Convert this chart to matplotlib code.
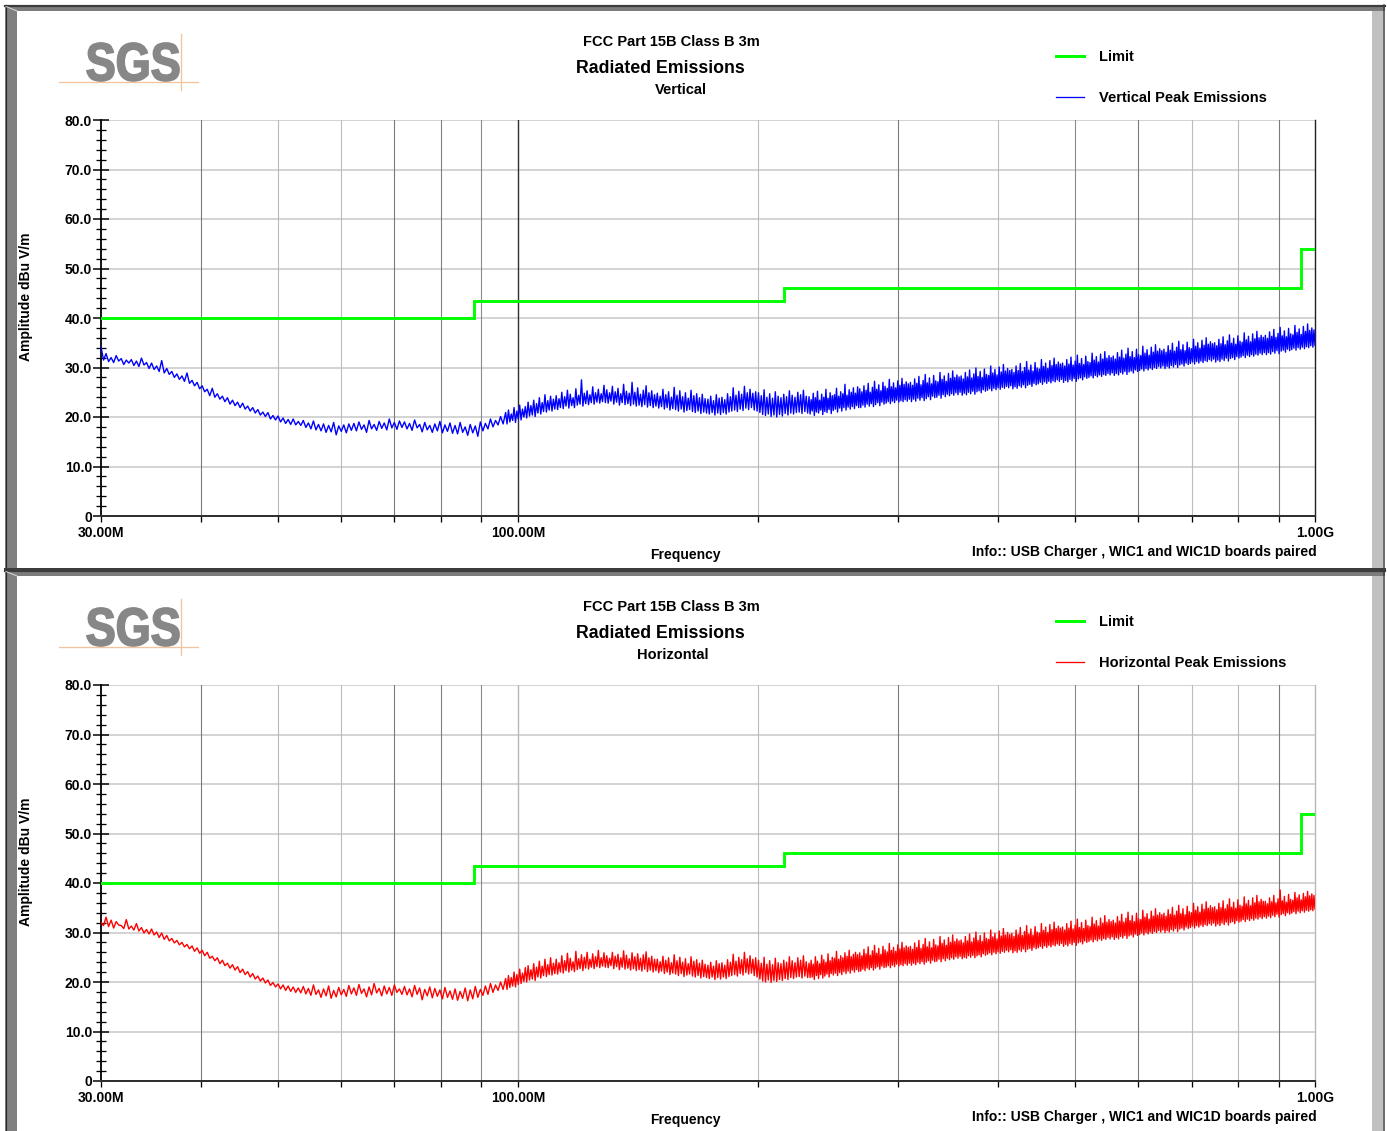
import numpy as np
import matplotlib
matplotlib.use("Agg")
import matplotlib.pyplot as plt
from matplotlib.patches import Rectangle, PathPatch
from matplotlib.textpath import TextPath
from matplotlib.font_manager import FontProperties
from matplotlib.transforms import Affine2D
from matplotlib.ticker import NullFormatter

FONT = "Liberation Sans"
W, H = 1387, 1131

# ---------------------------------------------------------------- data
# FCC Part 15B Class B (3 m) limit, MHz / dBuV/m
limit_freq = [30, 88, 88, 216, 216, 960, 960, 1000]
limit_level = [40.0, 40.0, 43.5, 43.5, 46.0, 46.0, 54.0, 54.0]

# sweep bands (MHz)
band_edges = [30.0, 96.54, 231.9, 1000.0]

# Peak scan, vertical polarisation (dBuV/m), 30 - 96.5 MHz
vertical_low = [
    34.2, 31.5, 32.8, 31.2, 32.0, 31.0, 32.4, 31.3, 31.8, 30.6, 31.5, 30.9, 31.6, 30.4, 31.3, 30.2, 31.9, 30.5, 31.0, 29.8,
    30.9, 29.6, 30.3, 29.2, 31.4, 28.9, 29.8, 28.6, 29.2, 28.0, 28.7, 27.6, 28.3, 27.2, 28.9, 26.8, 27.4, 26.3, 27.0, 25.7,
    26.3, 25.1, 25.6, 24.3, 25.8, 24.0, 24.7, 23.6, 24.2, 23.1, 23.9, 22.6, 23.4, 22.3, 23.0, 21.9, 22.8, 21.6, 22.2, 21.2,
    21.9, 20.8, 21.5, 20.4, 21.0, 20.1, 20.9, 19.6, 20.3, 19.4, 20.2, 19.0, 19.8, 18.7, 19.5, 18.5, 19.6, 18.4, 19.1, 18.3,
    19.3, 17.9, 18.8, 17.6, 19.2, 17.4, 18.5, 17.2, 18.6, 16.9, 18.3, 17.0, 18.9, 16.4, 18.2, 17.1, 18.4, 16.8, 18.6, 17.3,
    18.7, 17.2, 19.0, 17.5, 18.4, 16.9, 19.3, 17.6, 18.5, 17.3, 19.1, 17.7, 18.8, 17.4, 19.6, 17.8, 18.9, 17.5, 19.2, 17.9,
    19.0, 17.6, 18.7, 17.3, 19.4, 17.8, 18.5, 17.0, 18.9, 17.4, 18.3, 16.9, 18.6, 17.2, 19.1, 16.8, 18.4, 17.1, 18.8, 16.7,
    18.3, 16.6, 18.9, 16.9, 18.0, 16.3, 18.5, 16.8, 18.2, 16.1, 19.0, 17.2, 18.7, 17.6, 19.6, 18.0, 19.3, 18.4, 20.1, 18.6,
]

# Peak scan, vertical polarisation (dBuV/m), 96.5 - 231.9 MHz
vertical_mid = [
    20.9, 18.6, 21.4, 19.0, 20.6, 19.3, 21.9, 18.9, 21.2, 19.6, 22.4, 19.4, 21.6, 20.0, 22.1, 19.8, 23.0, 20.2,
    22.3, 20.4, 23.4, 20.1, 22.7, 20.8, 23.9, 20.6, 22.9, 21.1, 24.5, 21.0, 23.3, 21.4, 24.2, 21.2, 23.6, 21.6,
    24.3, 21.5, 23.7, 21.9, 25.0, 21.7, 24.1, 22.2, 25.4, 21.8, 24.6, 22.3, 23.9, 21.9, 25.7, 22.4, 24.4, 22.6,
    27.5, 22.2, 24.8, 22.7, 25.3, 22.5, 24.5, 22.9, 26.1, 22.6, 24.9, 23.0, 25.6, 22.8, 24.7, 23.1, 26.4, 22.9,
    25.5, 22.8, 24.9, 23.2, 26.2, 22.6, 25.1, 23.0, 25.8, 22.4, 24.7, 22.9, 26.6, 22.5, 25.2, 22.7, 24.8, 22.3,
    27.0, 22.6, 25.0, 22.2, 25.9, 22.4, 24.6, 22.1, 25.4, 22.5, 26.3, 22.0, 24.9, 22.3, 25.3, 21.9, 24.5, 22.2,
    24.8, 21.8, 24.2, 22.1, 25.6, 21.6, 24.5, 21.9, 25.1, 21.4, 24.0, 21.7, 26.0, 21.5, 24.4, 21.2, 25.3, 21.6,
    24.1, 21.0, 24.9, 21.3, 23.8, 21.5, 25.4, 21.1, 24.3, 20.9, 24.7, 21.2, 23.9, 20.7, 24.6, 21.0, 23.7, 20.8,
    23.6, 20.6, 24.2, 20.9, 23.3, 20.4, 24.5, 20.8, 23.8, 20.5, 24.0, 20.9, 23.5, 20.6, 24.7, 21.0, 24.1, 21.2,
    25.9, 21.4, 24.4, 21.1, 25.2, 21.6, 24.6, 21.3, 26.2, 21.8, 24.9, 21.5, 25.6, 21.9, 24.8, 21.4, 25.1, 21.2,
    24.9, 20.9, 24.3, 20.5, 25.5, 20.3, 24.0, 20.6, 24.7, 20.1, 23.8, 20.4, 25.1, 20.0, 24.2, 20.5, 23.9, 20.2,
    24.6, 20.7, 24.1, 20.4, 25.3, 20.8, 24.4, 20.6, 24.0, 20.9, 25.0, 21.0, 24.5, 20.7, 25.4, 21.1, 24.2, 20.8,
]

# Peak scan, vertical polarisation (dBuV/m), 231.9 - 1000 MHz
vertical_high = [
    24.1, 20.6, 23.5, 21.2, 24.8, 20.3, 23.9, 21.0, 25.2, 20.8, 23.4, 21.4, 24.6, 20.5, 24.0, 21.1, 25.6, 20.9, 23.8, 21.5, 24.9, 20.7, 24.3, 21.3,
    24.5, 21.6, 25.8, 21.0, 24.2, 21.8, 25.1, 21.2, 24.7, 21.9, 26.6, 21.4, 24.4, 22.0, 25.5, 21.6, 25.0, 22.1, 25.9, 21.7, 24.8, 22.3, 26.1, 21.9,
    25.7, 21.9, 25.1, 22.4, 26.3, 22.0, 25.4, 22.6, 26.8, 22.2, 25.0, 22.7, 26.0, 22.1, 27.2, 22.5, 25.6, 22.9, 26.5, 22.3, 25.3, 23.0, 27.0, 22.6,
    26.2, 22.8, 25.8, 23.1, 27.6, 22.7, 26.1, 23.2, 26.9, 22.9, 25.9, 23.4, 27.3, 23.0, 26.4, 23.3, 27.8, 23.1, 26.6, 23.5, 27.1, 23.2, 26.7, 23.6,
    27.0, 23.1, 26.4, 23.6, 27.7, 23.2, 26.8, 23.8, 28.2, 23.4, 26.5, 23.9, 27.4, 23.3, 28.6, 23.7, 26.9, 24.1, 27.9, 23.5, 26.7, 24.2, 28.4, 23.9,
    27.3, 24.0, 27.1, 24.4, 29.0, 23.8, 27.6, 24.5, 28.3, 24.1, 27.2, 24.6, 28.8, 24.3, 27.8, 24.7, 29.3, 24.4, 28.0, 24.9, 28.5, 24.5, 28.1, 25.0,
    28.3, 24.4, 27.7, 24.8, 29.0, 24.5, 28.1, 25.0, 29.5, 24.7, 27.9, 25.2, 28.7, 24.6, 29.9, 25.1, 28.2, 25.3, 29.2, 24.9, 28.0, 25.5, 29.7, 25.2,
    28.6, 25.4, 28.4, 25.7, 30.3, 25.3, 28.9, 25.8, 29.6, 25.5, 28.5, 25.9, 30.1, 25.6, 29.1, 26.0, 30.6, 25.8, 29.3, 26.2, 29.8, 25.9, 29.4, 26.3,
    29.6, 25.7, 29.0, 26.1, 30.3, 25.8, 29.4, 26.3, 30.8, 26.0, 29.2, 26.5, 30.0, 25.9, 31.2, 26.4, 29.5, 26.6, 30.5, 26.2, 29.3, 26.8, 31.0, 26.5,
    29.9, 26.7, 29.7, 27.0, 31.6, 26.6, 30.2, 27.1, 30.9, 26.8, 29.8, 27.2, 31.4, 26.9, 30.4, 27.3, 31.9, 27.1, 30.6, 27.5, 31.1, 27.2, 30.7, 27.6,
    30.9, 27.0, 30.3, 27.4, 31.6, 27.1, 30.7, 27.6, 32.1, 27.3, 30.5, 27.8, 31.3, 27.2, 32.5, 27.7, 30.8, 27.9, 31.8, 27.5, 30.6, 28.1, 32.3, 27.8,
    31.2, 28.0, 31.0, 28.3, 32.9, 27.9, 31.5, 28.4, 32.2, 28.1, 31.1, 28.5, 32.7, 28.2, 31.7, 28.6, 33.2, 28.4, 31.9, 28.8, 32.4, 28.5, 32.0, 28.9,
    32.3, 28.4, 31.7, 28.8, 33.0, 28.5, 32.1, 29.0, 33.5, 28.7, 31.9, 29.2, 32.7, 28.6, 33.9, 29.1, 32.2, 29.3, 33.2, 28.9, 32.0, 29.5, 33.7, 29.2,
    32.6, 29.4, 32.4, 29.7, 34.3, 29.3, 32.9, 29.8, 33.6, 29.5, 32.5, 29.9, 34.1, 29.6, 33.1, 30.0, 34.6, 29.8, 33.3, 30.2, 33.8, 29.9, 33.4, 30.3,
    33.7, 29.8, 33.1, 30.2, 34.4, 29.9, 33.5, 30.4, 34.9, 30.1, 33.3, 30.6, 34.1, 30.0, 35.3, 30.5, 33.6, 30.7, 34.6, 30.3, 33.4, 30.9, 35.1, 30.6,
    34.0, 30.8, 33.8, 31.1, 35.7, 30.7, 34.3, 31.2, 35.0, 30.9, 33.9, 31.3, 35.5, 31.0, 34.5, 31.4, 36.0, 31.2, 34.7, 31.6, 35.2, 31.3, 34.8, 31.7,
    35.0, 31.1, 34.4, 31.5, 35.7, 31.2, 34.8, 31.7, 36.2, 31.4, 34.6, 31.9, 35.4, 31.3, 36.6, 31.8, 34.9, 32.0, 35.9, 31.6, 34.7, 32.2, 36.4, 31.9,
    35.3, 32.1, 35.1, 32.4, 37.0, 32.0, 35.6, 32.5, 36.3, 32.2, 35.2, 32.6, 36.8, 32.3, 35.8, 32.7, 37.3, 32.5, 36.0, 32.9, 36.5, 32.6, 36.1, 33.0,
    36.5, 32.6, 35.9, 33.0, 37.2, 32.7, 36.3, 33.2, 37.7, 32.9, 36.1, 33.4, 36.9, 32.8, 38.1, 33.3, 36.4, 33.5, 37.4, 33.1, 36.2, 33.7, 37.9, 33.4,
    36.8, 33.6, 36.6, 33.9, 38.5, 33.5, 37.1, 34.0, 37.8, 33.7, 36.7, 34.1, 38.3, 33.8, 37.3, 34.2, 38.8, 34.0, 37.5, 34.4, 38.0, 34.1, 37.6, 34.5,
]

# Peak scan, horizontal polarisation (dBuV/m), 30 - 96.5 MHz
horizontal_low = [
    32.0, 31.4, 33.1, 31.2, 32.5, 30.9, 32.2, 31.5, 31.4, 30.8, 32.6, 30.7, 31.3, 30.5, 31.8, 30.3, 31.0, 29.9, 30.6, 29.7,
    30.7, 29.5, 30.1, 29.0, 29.9, 28.6, 29.4, 28.3, 28.8, 27.9, 28.4, 27.5, 28.0, 27.1, 27.6, 26.7, 27.3, 26.2, 26.9, 25.8,
    26.4, 25.3, 26.0, 24.8, 25.2, 24.3, 24.9, 23.7, 24.4, 23.3, 23.8, 22.8, 23.5, 22.4, 23.1, 21.9, 22.6, 21.5, 22.1, 21.0,
    21.7, 20.6, 21.2, 20.2, 20.8, 19.8, 20.4, 19.3, 19.9, 19.0, 19.6, 18.6, 19.4, 18.3, 19.2, 18.1, 19.0, 17.9, 18.8, 17.8,
    19.1, 17.6, 18.7, 17.3, 19.4, 17.5, 18.4, 16.9, 18.6, 17.2, 19.2, 16.7, 18.3, 17.0, 18.9, 17.4, 18.5, 17.1, 19.3, 17.6,
    18.8, 17.3, 19.5, 17.7, 18.6, 17.0, 19.0, 17.4, 19.7, 17.8, 18.7, 17.2, 19.2, 17.6, 18.9, 17.3, 19.4, 17.9, 18.6, 17.5,
    19.1, 17.4, 18.6, 17.0, 19.3, 17.5, 18.8, 16.4, 18.5, 17.2, 19.0, 16.8, 18.7, 17.1, 18.4, 16.6, 18.9, 16.9, 18.2, 16.5,
    18.6, 16.3, 18.1, 16.7, 18.8, 16.2, 18.4, 16.6, 19.1, 16.9, 18.5, 17.3, 19.2, 17.5, 19.7, 17.9, 19.4, 18.3, 20.0, 18.5,
]

# Peak scan, horizontal polarisation (dBuV/m), 96.5 - 231.9 MHz
horizontal_mid = [
    20.7, 18.5, 21.3, 18.9, 20.9, 19.2, 22.0, 19.0, 21.5, 19.5, 22.6, 19.7, 21.8, 20.1, 22.9, 20.0, 23.3, 20.4,
    22.5, 20.6, 23.7, 20.3, 23.0, 21.0, 24.2, 20.8, 23.2, 21.3, 24.6, 21.1, 23.5, 21.5, 24.9, 21.4, 23.8, 21.7,
    24.6, 21.6, 23.9, 22.0, 25.3, 21.8, 24.3, 22.3, 25.8, 22.0, 24.8, 22.4, 24.1, 22.1, 26.2, 22.5, 24.7, 22.7,
    25.5, 22.3, 25.0, 22.8, 26.0, 22.6, 24.6, 23.0, 25.7, 22.7, 25.1, 23.1, 26.4, 22.9, 24.9, 23.2, 25.9, 23.0,
    25.3, 22.9, 24.8, 23.3, 26.0, 22.7, 25.2, 23.1, 25.6, 22.5, 24.9, 23.0, 26.3, 22.6, 25.4, 22.8, 24.7, 22.4,
    25.9, 22.7, 25.1, 22.3, 25.7, 22.5, 24.8, 22.2, 25.5, 22.6, 26.1, 22.1, 24.9, 22.4, 25.2, 22.0, 24.6, 22.3,
    24.6, 21.9, 24.1, 22.2, 25.2, 21.7, 24.4, 22.0, 24.9, 21.5, 23.9, 21.8, 25.5, 21.6, 24.3, 21.3, 25.0, 21.7,
    24.0, 21.1, 24.7, 21.4, 23.7, 21.6, 25.1, 21.2, 24.2, 21.0, 24.5, 21.3, 23.8, 20.8, 24.4, 21.1, 23.6, 20.9,
    23.4, 20.7, 24.0, 21.0, 23.2, 20.5, 24.3, 20.9, 23.7, 20.6, 23.9, 21.0, 23.4, 20.7, 24.5, 21.1, 24.0, 21.3,
    25.6, 21.5, 24.2, 21.2, 25.0, 21.7, 24.5, 21.4, 26.0, 21.9, 24.7, 21.6, 25.3, 21.8, 24.6, 21.3, 24.9, 21.0,
    24.4, 20.6, 23.8, 20.2, 25.0, 20.0, 23.6, 20.4, 24.3, 19.9, 23.5, 20.3, 24.8, 20.1, 23.9, 20.5, 23.7, 20.3,
    24.4, 20.7, 24.0, 20.5, 25.1, 20.9, 24.3, 20.7, 23.9, 21.0, 24.9, 21.1, 24.4, 20.8, 25.3, 21.2, 24.1, 20.9,
]

# Peak scan, horizontal polarisation (dBuV/m), 231.9 - 1000 MHz
horizontal_high = [
    23.8, 20.9, 24.4, 21.0, 23.6, 20.5, 25.1, 21.3, 24.2, 20.7, 23.7, 21.5, 25.4, 20.8, 24.5, 21.2, 24.0, 21.6, 25.7, 21.0, 24.3, 21.7, 25.0, 21.4,
    24.8, 21.8, 26.2, 21.3, 24.6, 21.9, 25.3, 21.5, 24.9, 22.1, 25.9, 21.7, 25.2, 22.2, 26.4, 21.8, 25.1, 22.4, 25.6, 22.0, 26.0, 22.5, 25.5, 22.1,
    25.9, 22.2, 25.3, 22.6, 26.6, 22.3, 25.7, 22.8, 27.1, 22.5, 25.4, 22.9, 26.3, 22.4, 27.4, 22.8, 25.8, 23.1, 26.8, 22.6, 25.6, 23.2, 27.2, 22.9,
    26.5, 23.0, 26.1, 23.3, 27.8, 22.9, 26.4, 23.4, 27.0, 23.1, 26.2, 23.6, 27.5, 23.2, 26.7, 23.5, 28.0, 23.3, 26.9, 23.7, 27.3, 23.4, 27.0, 23.8,
    27.2, 23.4, 26.6, 23.8, 27.9, 23.5, 27.0, 24.0, 28.4, 23.7, 26.8, 24.1, 27.6, 23.6, 28.8, 24.0, 27.1, 24.3, 28.1, 23.8, 26.9, 24.4, 28.6, 24.1,
    27.5, 24.2, 27.3, 24.6, 29.2, 24.1, 27.8, 24.7, 28.5, 24.3, 27.4, 24.8, 29.0, 24.5, 28.0, 24.9, 29.5, 24.6, 28.2, 25.1, 28.7, 24.8, 28.3, 25.2,
    28.5, 24.7, 27.9, 25.0, 29.2, 24.8, 28.3, 25.3, 29.7, 25.0, 28.1, 25.4, 28.9, 24.9, 30.1, 25.3, 28.4, 25.5, 29.4, 25.1, 28.2, 25.7, 29.9, 25.4,
    28.8, 25.6, 28.6, 25.9, 30.5, 25.5, 29.1, 26.0, 29.8, 25.7, 28.7, 26.1, 30.3, 25.8, 29.3, 26.2, 30.8, 26.0, 29.5, 26.4, 30.0, 26.1, 29.6, 26.5,
    29.8, 25.9, 29.2, 26.3, 30.5, 26.0, 29.6, 26.5, 31.0, 26.2, 29.4, 26.7, 30.2, 26.1, 31.4, 26.6, 29.7, 26.8, 30.7, 26.4, 29.5, 27.0, 31.2, 26.7,
    30.1, 26.9, 29.9, 27.2, 31.8, 26.8, 30.4, 27.3, 31.1, 27.0, 30.0, 27.4, 31.6, 27.1, 30.6, 27.5, 32.1, 27.3, 30.8, 27.7, 31.3, 27.4, 30.9, 27.8,
    31.1, 27.2, 30.5, 27.6, 31.8, 27.3, 30.9, 27.8, 32.3, 27.5, 30.7, 28.0, 31.5, 27.4, 32.7, 27.9, 31.0, 28.1, 32.0, 27.7, 30.8, 28.3, 32.5, 28.0,
    31.4, 28.2, 31.2, 28.5, 33.1, 28.1, 31.7, 28.6, 32.4, 28.3, 31.3, 28.7, 32.9, 28.4, 31.9, 28.8, 33.4, 28.6, 32.1, 29.0, 32.6, 28.7, 32.2, 29.1,
    32.5, 28.6, 31.9, 29.0, 33.2, 28.7, 32.3, 29.2, 33.7, 28.9, 32.1, 29.4, 32.9, 28.8, 34.1, 29.3, 32.4, 29.5, 33.4, 29.1, 32.2, 29.7, 33.9, 29.4,
    32.8, 29.6, 32.6, 29.9, 34.5, 29.5, 33.1, 30.0, 33.8, 29.7, 32.7, 30.1, 34.3, 29.8, 33.3, 30.2, 34.8, 30.0, 33.5, 30.4, 34.0, 30.1, 33.6, 30.5,
    33.9, 30.0, 33.3, 30.4, 34.6, 30.1, 33.7, 30.6, 35.1, 30.3, 33.5, 30.8, 34.3, 30.2, 35.5, 30.7, 33.8, 30.9, 34.8, 30.5, 33.6, 31.1, 35.3, 30.8,
    34.2, 31.0, 34.0, 31.3, 35.9, 30.9, 34.5, 31.4, 35.2, 31.1, 34.1, 31.5, 35.7, 31.2, 34.7, 31.6, 36.2, 31.4, 34.9, 31.8, 35.4, 31.5, 35.0, 31.9,
    35.2, 31.3, 34.6, 31.7, 35.9, 31.4, 35.0, 31.9, 36.4, 31.6, 34.8, 32.1, 35.6, 31.5, 36.8, 32.0, 35.1, 32.2, 36.1, 31.8, 34.9, 32.4, 36.6, 32.1,
    35.5, 32.3, 35.3, 32.6, 37.2, 32.2, 35.8, 32.7, 36.5, 32.4, 35.4, 32.8, 37.0, 32.5, 36.0, 32.9, 37.5, 32.7, 36.2, 33.1, 36.7, 32.8, 36.3, 33.2,
    36.3, 32.9, 35.8, 33.3, 37.0, 33.0, 36.2, 33.5, 37.5, 33.2, 36.0, 33.7, 36.8, 33.1, 38.6, 33.6, 36.4, 33.8, 37.3, 33.4, 36.1, 34.0, 37.7, 33.7,
    36.7, 33.9, 36.5, 34.2, 38.1, 33.8, 37.0, 34.3, 37.6, 34.0, 36.6, 34.4, 37.9, 34.1, 37.2, 34.5, 38.3, 34.3, 37.4, 34.6, 37.8, 34.4, 37.5, 34.8,
]

x_major = [30, 100, 1000]
x_major_labels = ["30.00M", "100.00M", "1.00G"]
x_minor = [40, 50, 60, 70, 80, 90, 200, 300, 400, 500, 600, 700, 800, 900]
y_major = [0, 10, 20, 30, 40, 50, 60, 70, 80]
y_major_labels = ["0", "10.0", "20.0", "30.0", "40.0", "50.0", "60.0", "70.0", "80.0"]
y_minor = list(range(0, 81, 2))

title_line1 = "FCC Part 15B Class B 3m"
title_line2 = "Radiated Emissions"
info_text = "Info:: USB Charger , WIC1 and WIC1D boards paired"


def sweep(*bands):
    """Frequency points of the sweep bands, log-spaced within each band."""
    freqs = []
    for i, vals in enumerate(bands):
        last = i == len(bands) - 1
        freqs.append(np.geomspace(band_edges[i], band_edges[i + 1], len(vals),
                                  endpoint=last))
    return np.concatenate(freqs), np.concatenate(bands)


# ---------------------------------------------------------------- figure
fig = plt.figure(figsize=(W / 100, H / 100), dpi=100)
fig.patch.set_facecolor("white")

# full-figure canvas in pixel units (y grows downwards)
bg = fig.add_axes([0, 0, 1, 1])
bg.set_xlim(0, W)
bg.set_ylim(H, 0)
bg.axis("off")

PX = 0.72  # points per pixel


def px_axes(left, top, right, bottom):
    return fig.add_axes([left / W, 1 - bottom / H, (right - left) / W, (bottom - top) / H])


def txt(x, y, s, size=10.5, ha="left", va="baseline", **kw):
    bg.text(x, y, s, fontsize=size, ha=ha, va=va, family=FONT,
            fontweight="bold", color="black", **kw)


def frame(top, bottom, last):
    # bevelled panel border
    bg.add_patch(Rectangle((5, top), 1380, 6, color="#7c7c7c", lw=0, zorder=0))
    bg.plot([5, 1385], [top + 1, top + 1], color="#3c3c3c", lw=2.2 * PX)
    bg.add_patch(Rectangle((5, top), 12, bottom - top, color="#808080", lw=0, zorder=0))
    bg.plot([5.5, 5.5], [top, bottom], color="#2a2a2a", lw=1.2 * PX)
    bg.plot([6, 17], [top + 1.5, top + 6], color="#d8d8d8", lw=1 * PX)
    bg.add_patch(Rectangle((1372, top + 6), 11, bottom - top - 6, color="#c0c0c0", lw=0, zorder=0))
    bg.plot([1384, 1384], [top, bottom], color="#3c3c3c", lw=1.5 * PX)
    if not last:
        bg.plot([5, 1385], [bottom - 1, bottom - 1], color="#3c3c3c", lw=2 * PX)


def sgs_logo(oy):
    fp = FontProperties(family=FONT, weight="bold")
    path = TextPath((0, 0), "SGS", size=50, prop=fp)
    ext = path.get_extents()
    x0, x1, y0, y1 = 87, 179, 43 + oy, 81 + oy
    sx = (x1 - x0) / ext.width
    sy = (y1 - y0) / ext.height
    tr = Affine2D().translate(-ext.x0, -ext.y0).scale(sx, -sy).translate(x0, y1)
    bg.add_patch(PathPatch(tr.transform_path(path), facecolor="#878787",
                           edgecolor="#878787", lw=1.8 * PX, zorder=2))
    bg.plot([59, 198], [81.5 + oy, 81.5 + oy], color="#f3c39e", lw=1.3 * PX, zorder=3)
    bg.plot([180.5, 180.5], [34 + oy, 90 + oy], color="#f3c39e", lw=1.3 * PX, zorder=3)


grid_colors = ["#7a7a7a", "#b8b8b8", "#bcbcbc", "#7a7a7a", "#808080", "#8a8a8a",
               "#bcbcbc", "#7a7a7a", "#bcbcbc", "#8a8a8a", "#7a7a7a", "#bcbcbc",
               "#b8b8b8", "#7a7a7a"]

panels = [
    dict(oy=0, sub="Vertical", sub_x=681,
         bands=(vertical_low, vertical_mid, vertical_high),
         color="#0000ff", name="Vertical Peak Emissions", c100="#303030",
         cright="#202020", last=False),
    dict(oy=565, sub="Horizontal", sub_x=673,
         bands=(horizontal_low, horizontal_mid, horizontal_high),
         color="#ff0000", name="Horizontal Peak Emissions", c100="#b8b8b8",
         cright="#b8b8b8", last=True),
]

for p in panels:
    oy = p["oy"]
    frame(5 + oy, 570 + oy if not p["last"] else H + 5, p["last"])
    sgs_logo(oy)

    # titles
    txt(671.5, 46 + oy, title_line1, size=10.5, ha="center")
    txt(660, 73 + oy, title_line2, size=12.8, ha="center")
    txt(p["sub_x"], 94 + oy, p["sub"], size=10.5, ha="center")

    # legend
    bg.plot([1056, 1084], [56 + oy, 56 + oy], color="#00ff00", lw=3 * PX)
    bg.plot([1056, 1084], [97 + oy, 97 + oy], color=p["color"], lw=1.3 * PX)
    txt(1099, 61 + oy, "Limit", size=10.5)
    txt(1099, 102 + oy, p["name"], size=10.5)

    # axis captions
    txt(685, 559 + oy, "Frequency", size=10, ha="center")
    txt(1317, 556 + oy, info_text, size=10, ha="right")
    txt(26, 297 + oy, "Amplitude dBu V/m", size=10, ha="center", va="center", rotation=90)

    # plot area
    ax = px_axes(101, 120 + oy, 1315, 516 + oy)
    ax.set_facecolor("white")
    ax.set_xscale("log")
    ax.set_xlim(30, 1000)
    ax.set_ylim(0, 80)

    for yv in y_major[1:]:
        ax.axhline(yv, color="#c6c6c6", lw=1.5 * PX, zorder=1)
    for f, c in zip(x_minor, grid_colors):
        ax.axvline(f, color=c, lw=1.1 * PX, zorder=1)
    ax.axvline(100, color=p["c100"], lw=1.4 * PX, zorder=1)

    freq, level = sweep(*p["bands"])
    ax.plot(freq, level, color=p["color"], lw=1.0, zorder=3)
    ax.plot(limit_freq, limit_level, color="#00ff00", lw=2.1, zorder=4,
            solid_joinstyle="miter")

    ax.spines["top"].set_visible(False)
    ax.spines["left"].set_color("black")
    ax.spines["left"].set_linewidth(1.8 * PX)
    ax.spines["bottom"].set_color("#303030")
    ax.spines["bottom"].set_linewidth(2 * PX)
    ax.spines["right"].set_color(p["cright"])
    ax.spines["right"].set_linewidth(1.4 * PX)

    ax.set_yticks(y_major)
    ax.set_yticklabels(y_major_labels)
    ax.set_yticks(y_minor, minor=True)
    ax.tick_params(axis="y", which="major", direction="inout", length=11,
                   width=1.5 * PX, pad=1, colors="black")
    ax.tick_params(axis="y", which="minor", direction="inout", length=7,
                   width=1.3 * PX, colors="black")

    ax.set_xticks(x_major)
    ax.set_xticklabels(x_major_labels)
    ax.set_xticks(x_minor, minor=True)
    ax.xaxis.set_minor_formatter(NullFormatter())
    ax.tick_params(axis="x", which="both", direction="out", length=4,
                   width=1.3 * PX, pad=3, colors="black")
    for lab in ax.get_xticklabels() + ax.get_yticklabels():
        lab.set_family(FONT)
        lab.set_fontweight("bold")
        lab.set_fontsize(10)

fig.savefig("out.png", dpi=100, facecolor="white")
